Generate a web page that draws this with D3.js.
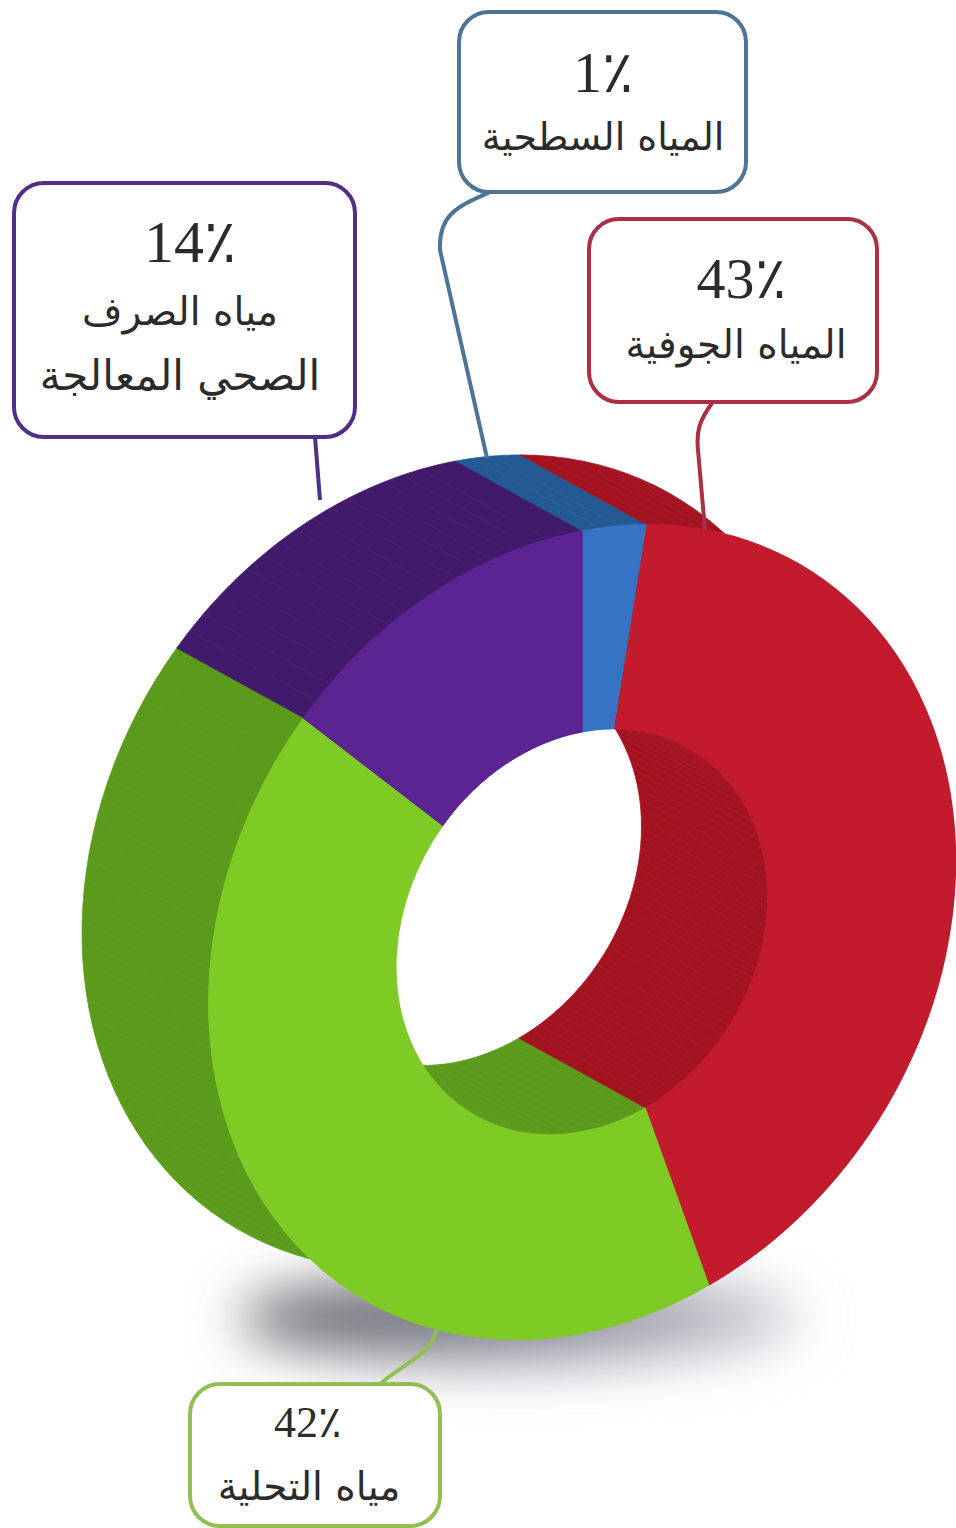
<!DOCTYPE html>
<html lang="ar">
<head>
<meta charset="utf-8">
<title>مصادر المياه</title>
<script src="https://cdn.jsdelivr.net/npm/d3@7"></script>
<style>
  body { margin: 0; background: #fff; }
  svg { display: block; }
  .pct { font-family: "Liberation Serif", "DejaVu Serif", serif; fill: #2b2b2b; text-anchor: middle; direction: ltr; }
  .name { font-family: "DejaVu Sans", sans-serif; fill: #2b2b2b; text-anchor: middle; direction: rtl; }
</style>
</head>
<body>
<div id="chart"></div>
<script>
// 1. DATA
const categories = ["المياه السطحية", "المياه الجوفية", "مياه التحلية", "مياه الصرف الصحي المعالجة"];
const printedPercent = [1, 43, 42, 14];
// sweep of each slice as it is actually drawn in the picture (blue is wider than its 1%)
const drawnShare = [2.8, 41.7, 42.1, 13.4];
const faceColors = ["#3673c5", "#c21b2e", "#7fcb25", "#5c2392"];
const wallColors = ["#245a94", "#a3131f", "#5b9a1a", "#411a6b"];
const boxColors = ["#4f7594", "#ab2f47", "#8fbf55", "#4f2f88"];
const labelLines = [["المياه السطحية"], ["المياه الجوفية"], ["مياه التحلية"], ["مياه الصرف", "الصحي المعالجة"]];

// 2. LAYOUT
const width = 956, height = 1528;
const cx = 582, cy = 932;
const rx = 373, shearY = -71, ry = 400.8;   // the tilted ellipse of the front face
const depth = [-127, -70];                  // extrusion towards the back
const holeRatio = 0.5;

const boxes = [
  { x: 459, y: 12, w: 287, h: 180, pctX: 603, pctY: 92, pctSize: 58, nameX: 603, nameY: [150], nameSize: [38],
    leader: "M490,192 C462,205 438,212 440,250 L487,458" },
  { x: 589, y: 219, w: 288, h: 183, pctX: 741, pctY: 298, pctSize: 58, nameX: 736, nameY: [358], nameSize: [39],
    leader: "M712,403 C700,420 696,430 698,450 L705,530" },
  { x: 190, y: 1384, w: 250, h: 142, pctX: 308, pctY: 1437, pctSize: 44, nameX: 309, nameY: [1500], nameSize: [39],
    leader: "M437,1328 C432,1355 405,1362 380,1384" },
  { x: 14, y: 183, w: 341, h: 254, pctX: 190, pctY: 262, pctSize: 60, nameX: 180, nameY: [325, 390], nameSize: [39, 42],
    leader: "M315,437 L320,500" }
];

const svg = d3.select("#chart").append("svg")
  .attr("width", width).attr("height", height);

const defs = svg.append("defs");
defs.append("filter").attr("id", "soft")
  .attr("x", "-30%").attr("y", "-150%").attr("width", "160%").attr("height", "400%")
  .append("feGaussianBlur").attr("stdDeviation", 27);
const shadowGrad = defs.append("linearGradient").attr("id", "shadowGrad");
shadowGrad.append("stop").attr("offset", "0%").attr("stop-color", "#5c5c62");
shadowGrad.append("stop").attr("offset", "55%").attr("stop-color", "#90909e");
shadowGrad.append("stop").attr("offset", "100%").attr("stop-color", "#c8c8d0");

// 3. PIE
const pie = d3.pie().sort(null).value(d => d.share).startAngle(0).endAngle(2 * Math.PI);
const slices = pie(drawnShare.map((share, i) => ({ share, i })));

// unit circle point -> screen
const project = (a, r) => [
  cx + rx * r * Math.sin(a),
  cy + r * (shearY * Math.sin(a) - ry * Math.cos(a))
];

const wallPath = d3.line();
function wallPoints(s, r) {
  const steps = d3.range(0, 61).map(k => s.startAngle + (s.endAngle - s.startAngle) * k / 60);
  const front = steps.map(a => project(a, r));
  const back = front.map(p => [p[0] + depth[0], p[1] + depth[1]]).reverse();
  return front.concat(back);
}

// 4. SHADOW
svg.append("ellipse")
  .attr("cx", 520).attr("cy", 1318).attr("rx", 280).attr("ry", 44)
  .attr("fill", "url(#shadowGrad)")
  .attr("filter", "url(#soft)");

// 5. WALLS (outer first, then the inside of the hole)
[1, holeRatio].forEach(r => {
  const g = svg.append("g").attr("class", r === 1 ? "outer-wall" : "inner-wall");
  g.selectAll("path.wall").data(slices).enter().append("path")
    .attr("class", "wall")
    .attr("d", s => wallPath(wallPoints(s, r)) + "Z")
    .attr("fill", s => wallColors[s.data.i])
    .attr("stroke", s => wallColors[s.data.i])
    .attr("stroke-width", 0.8);

  // faint hatching along the extrusion
  slices.forEach(s => {
    const count = Math.floor((s.endAngle - s.startAngle) / 0.05);
    g.selectAll(null).data(d3.range(1, count)).enter().append("line")
      .each(function (k) {
        const p = project(s.startAngle + k * 0.05, r);
        d3.select(this)
          .attr("x1", p[0]).attr("y1", p[1])
          .attr("x2", p[0] + depth[0]).attr("y2", p[1] + depth[1]);
      })
      .attr("stroke", "#fff").attr("stroke-opacity", 0.035).attr("stroke-width", 1.2);
  });
});

// 6. FRONT FACE
const arc = d3.arc().innerRadius(holeRatio).outerRadius(1);
svg.append("g")
  .attr("class", "face")
  .attr("transform", `matrix(${rx},${shearY},0,${ry},${cx},${cy})`)
  .selectAll("path").data(slices).enter().append("path")
  .attr("d", arc)
  .attr("fill", s => faceColors[s.data.i])
  .attr("stroke", s => faceColors[s.data.i])
  .attr("stroke-width", 0.004);

// 7. LABELS
boxes.forEach((b, i) => {
  const g = svg.append("g").attr("class", "label");
  g.append("path").attr("d", b.leader)
    .attr("fill", "none").attr("stroke", boxColors[i]).attr("stroke-width", 4);
  g.append("rect")
    .attr("x", b.x).attr("y", b.y).attr("width", b.w).attr("height", b.h)
    .attr("rx", 30).attr("ry", 30)
    .attr("fill", "#fff").attr("stroke", boxColors[i]).attr("stroke-width", 4);
  g.append("text").attr("class", "pct")
    .attr("x", b.pctX).attr("y", b.pctY).style("font-size", b.pctSize + "px")
    .text(printedPercent[i] + "٪");
  labelLines[i].forEach((line, j) => {
    g.append("text").attr("class", "name")
      .attr("x", b.nameX).attr("y", b.nameY[j]).style("font-size", b.nameSize[j] + "px")
      .text(line);
  });
});
</script>
</body>
</html>
